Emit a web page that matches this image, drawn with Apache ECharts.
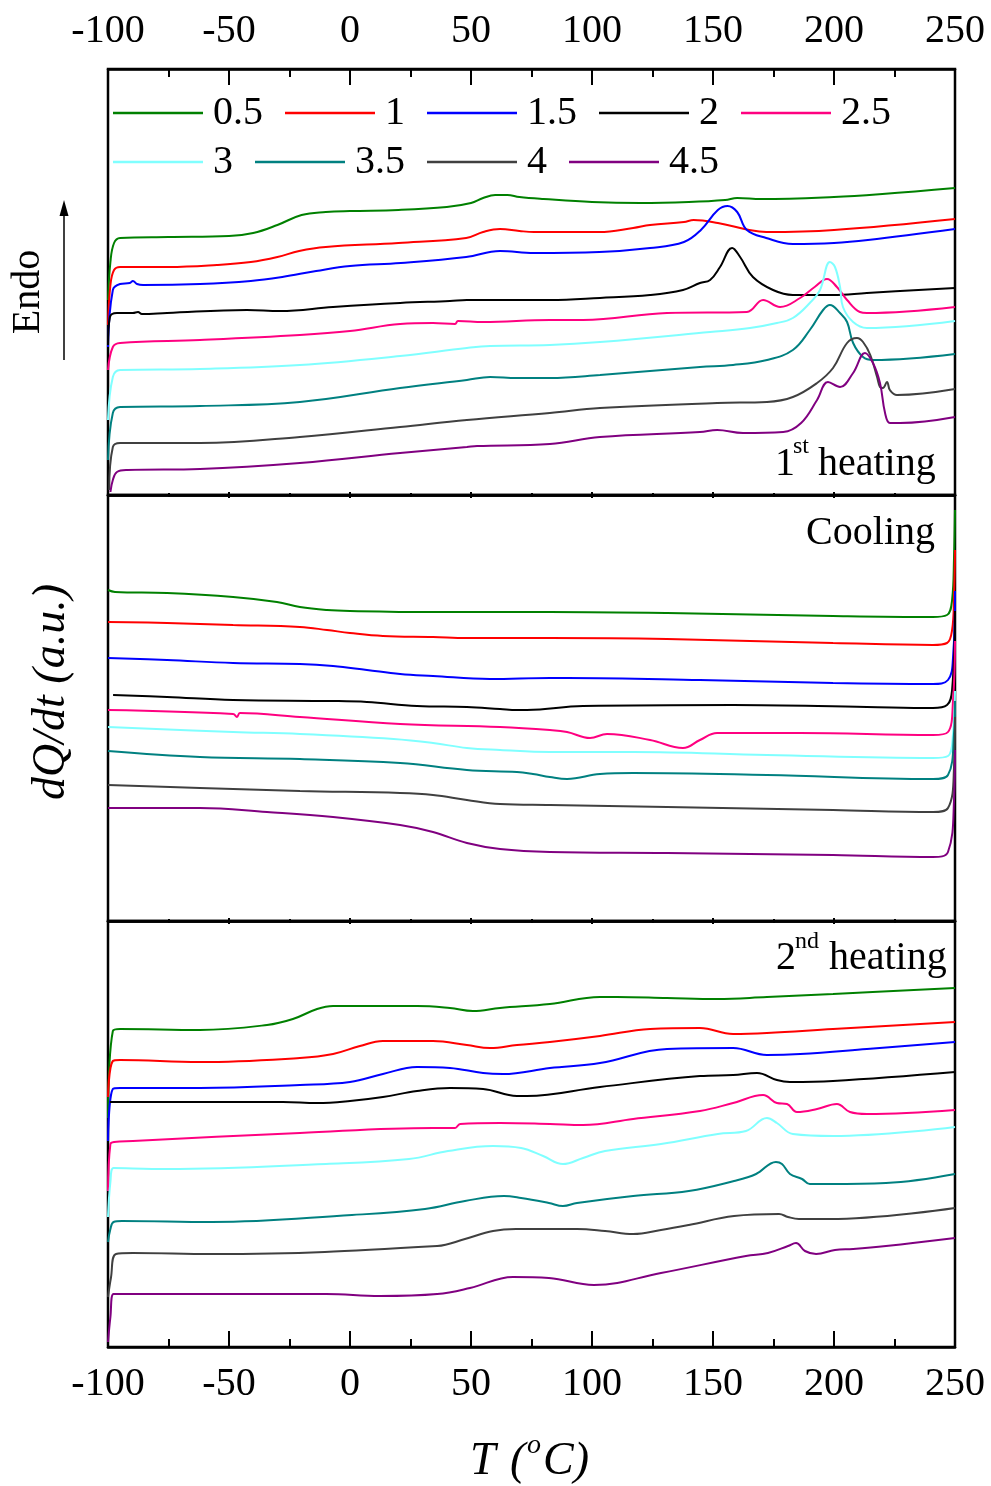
<!DOCTYPE html>
<html>
<head>
<meta charset="utf-8">
<script src="https://cdn.jsdelivr.net/npm/echarts@6/dist/echarts.min.js"></script>
<style>
  html, body { margin: 0; padding: 0; background: #fff; }
  #chart { width: 991px; height: 1486px; }
</style>
</head>
<body>
<div id="chart"></div>
<script>
// Heating / cooling rates (legend entries)
const rates = ['0.5', '1', '1.5', '2', '2.5', '3', '3.5', '4', '4.5'];
const xTicks = [-100, -50, 0, 50, 100, 150, 200, 250];

// ---- 1st heating: [T (°C), dQ/dt (a.u., offset)] ----
const h1_05 = [[-100,19.5],[-99,23.3],[-97.5,25.2],[-95,25.7],[-75,25.8],[-50,25.9],[-40,26.2],[-30,27.0],[-20,28.0],[-10,28.3],[0,28.4],[20,28.5],[40,28.8],[50,29.2],[55,29.7],[60,30.0],[65,30.0],[70,29.8],[80,29.6],[100,29.3],[120,29.2],[140,29.3],[155,29.5],[160,29.7],[170,29.6],[200,29.8],[220,30.1],[250,30.7]];
const h1_1 = [[-100,17.0],[-99,21.0],[-97.5,22.5],[-95,22.8],[-75,22.8],[-55,23.0],[-41,23.3],[-30,23.8],[-21,24.4],[-10,24.8],[20,25.2],[48,25.7],[55,26.3],[62,26.6],[70,26.4],[76,26.3],[103,26.3],[117,26.7],[124,27.0],[138,27.3],[142,27.5],[152,27.2],[165,26.5],[172,26.3],[200,26.5],[250,27.6]];
const h1_15 = [[-100,14.8],[-98,20.5],[-95,21.1],[-91,21.2],[-89.7,21.4],[-88,21.1],[-85.5,21.0],[-62,21.1],[-41,21.4],[-28,21.8],[-14,22.4],[0,22.9],[21,23.2],[48,23.8],[62,24.4],[76,24.2],[103,24.3],[124,24.7],[138,25.3],[145,26.5],[152,28.5],[156,28.9],[160,28.3],[164,26.5],[172,25.7],[183,25.1],[200,25.2],[214,25.5],[250,26.6]];
const h1_2 = [[-100,15.0],[-99.2,17.8],[-96.3,18.2],[-89.7,18.2],[-87.6,18.3],[-86,18.1],[-75.6,18.2],[-42.6,18.5],[-28.9,18.4],[-7,18.8],[20.7,19.2],[41.3,19.4],[48.3,19.5],[82.6,19.5],[103.3,19.7],[124,20.0],[137.6,20.5],[144.6,21.2],[148.8,21.5],[152.9,22.8],[157.9,24.7],[161.2,23.8],[166.5,21.8],[174.8,20.5],[183,20.0],[199.6,20.0],[213.6,20.2],[250,20.7]];
const h1_25 = [[-100,12.5],[-98,14.8],[-95,15.2],[-62,15.5],[-20.7,16.0],[0,16.4],[20.7,17.1],[34.3,17.2],[43.4,17.1],[44.6,17.4],[55,17.3],[82.6,17.5],[96.3,17.5],[131,18.2],[164,18.3],[170.7,19.5],[177.7,18.8],[186,19.7],[192,20.8],[197.1,21.6],[201.2,20.8],[205.4,19.5],[210.7,18.3],[213.6,18.2],[250,18.8]];
const h1_3 = [[-100,7.5],[-98,11.8],[-95,12.5],[-62,12.6],[-20.7,13.0],[20.7,13.9],[48.3,14.7],[57.9,14.9],[82.6,15.0],[103.3,15.3],[148.8,16.3],[165.3,16.7],[176.4,17.2],[183,17.7],[190,19.2],[194.2,20.5],[198.3,23.3],[200.4,22.8],[202.5,20.8],[203.7,18.8],[207.9,17.3],[213.6,16.7],[250,17.4]];
const h1_35 = [[-100,3.5],[-98,8.2],[-95,8.8],[-62,8.9],[-20.7,9.3],[20.7,10.7],[48.3,11.5],[57.9,11.8],[69,11.7],[82.6,11.7],[103.3,12.0],[144.6,12.8],[158.3,13.0],[172.3,13.5],[183,14.5],[190,16.5],[195.5,18.5],[198.3,19.0],[202.5,18.2],[205.4,17.3],[207.9,15.2],[212,13.8],[216.1,13.5],[250,14.1]];
const h1_4 = [[-99.5,0.5],[-98,4.8],[-95,5.2],[-62,5.2],[-20.7,5.8],[20.7,6.8],[48.3,7.5],[82.6,8.2],[103.3,8.7],[151.7,9.2],[172.3,9.3],[183,9.8],[193,11.2],[199.6,12.7],[205.4,15.2],[209.5,15.7],[212,15.3],[215,14.0],[217.8,11.8],[219,10.8],[220.2,10.7],[221.9,11.3],[223.1,10.5],[226,10.0],[250,10.6]];
const h1_45 = [[-99,0.3],[-98,1.5],[-96.3,2.3],[-92,2.5],[-62,2.6],[-20.7,3.2],[20.7,4.2],[48.3,4.8],[52.5,4.9],[82.6,5.1],[103.3,5.8],[144.6,6.3],[151.7,6.5],[162.4,6.2],[179,6.3],[186.4,7.2],[193,9.5],[197.5,11.3],[202.5,10.8],[207.9,12.2],[212.8,14.2],[216.1,13.2],[219,11.2],[221.1,8.2],[223.1,7.2],[227.3,7.2],[250,7.8]];

// ---- Cooling ----
const c_05 = [[-100,33.1],[-97.1,32.9],[-75.6,32.8],[-48.3,32.4],[-30.2,31.9],[-20.7,31.4],[-9.5,31.1],[0,31.0],[34.3,30.9],[82.6,30.9],[131,30.8],[199.6,30.5],[240.9,30.4],[246.7,30.6],[248.8,32.1],[249.6,36.4],[250,41.1]];
const c_1 = [[-100,29.9],[-75.6,29.8],[-48.3,29.6],[-20.7,29.4],[-9.5,29.1],[0,28.8],[13.6,28.5],[34.3,28.4],[48.3,28.3],[82.6,28.3],[131,28.2],[199.6,27.8],[240.9,27.6],[246.7,27.8],[248.8,29.1],[249.6,32.4],[250,37.1]];
const c_15 = [[-100,26.3],[-75.6,26.1],[-48.3,25.8],[-20.7,25.7],[-7,25.5],[7,25.1],[20.7,24.7],[34.3,24.5],[57.9,24.2],[82.6,24.3],[89.7,24.3],[144.6,24.1],[199.6,23.8],[240.9,23.7],[247.1,24.1],[249.2,26.4],[250,33.0]];
const c_2 = [[-97.9,22.6],[-75.6,22.4],[-48.3,22.1],[-7,22.0],[7,21.9],[27.7,21.5],[48.3,21.4],[62,21.2],[69,21.1],[73.1,21.1],[96.3,21.5],[158.3,21.6],[213.6,21.4],[240.9,21.3],[246.7,21.6],[248.8,23.1],[250,31.0]];
const c_25 = [[-100,21.1],[-48.3,20.7],[-46.7,20.4],[-45.5,20.8],[-20.7,20.4],[20.7,19.7],[62,19.4],[82.6,19.1],[89.7,18.9],[99.2,18.3],[106.2,18.7],[124,18.1],[137.6,17.3],[144.6,18.1],[151.7,18.8],[186,18.8],[240.9,18.6],[247.1,18.9],[249.2,22.1],[250,28.0]];
const c_3 = [[-100,19.4],[-48.3,18.9],[-20.7,18.7],[18,18.2],[34.3,17.8],[48.3,17.3],[62,17.1],[82.6,16.9],[117,16.9],[172.3,16.6],[240.9,16.3],[247.1,16.5],[249.2,18.8],[250,23.0]];
const c_35 = [[-100,17.0],[-62,16.4],[-20.7,16.2],[20.7,15.8],[48.3,15.1],[69,14.9],[75.6,14.7],[82.6,14.4],[89.7,14.2],[103.3,14.7],[117,14.8],[172.3,14.6],[240.9,14.2],[247.1,14.6],[249.6,18.8],[250,22.0]];
const c_4 = [[-100,13.6],[-62,13.3],[-20.7,13.0],[20.7,12.8],[34.3,12.6],[48.3,12.1],[62,11.7],[82.6,11.6],[131,11.4],[199.6,11.1],[240.9,10.9],[247.1,11.3],[249.6,15.4],[250,20.4]];
const c_45 = [[-100,11.3],[-62,11.3],[-34.3,10.9],[-7,10.4],[20.7,9.6],[34.3,8.9],[48.3,7.8],[62,7.2],[82.6,6.9],[131,6.8],[199.6,6.6],[240.9,6.4],[247.1,6.9],[249.6,12.1],[250,17.1]];

// ---- 2nd heating ----
const h2_05 = [[-100,22.9],[-98,31.6],[-95,31.8],[-62,31.7],[-34.3,32.2],[-23.6,32.8],[-13.6,33.8],[-7,34.1],[27.7,34.1],[41.3,33.9],[50.8,33.6],[62,33.9],[82.6,34.3],[103.3,35.0],[110.3,35.0],[131,34.9],[151.7,34.8],[172.3,35.0],[199.6,35.3],[250,35.9]];
const h2_1 = [[-100,25.0],[-98,28.6],[-95,28.7],[-62,28.5],[-20.7,28.9],[-7,29.3],[4.1,30.1],[13.6,30.6],[34.3,30.6],[48.3,30.2],[57.9,29.9],[69,30.2],[82.6,30.5],[103.3,31.1],[124,31.8],[144.6,31.9],[158.3,31.3],[172.3,31.4],[199.6,31.8],[250,32.5]];
const h2_15 = [[-100,20.6],[-98,25.8],[-95,25.9],[-62,25.9],[-20.7,26.2],[0,26.5],[13.6,27.3],[27.7,28.0],[41.3,27.9],[55,27.4],[63.2,27.3],[82.6,27.9],[103.3,28.4],[131,29.8],[158.3,29.9],[172.3,29.2],[186,29.3],[213.6,29.8],[250,30.5]];
const h2_2 = [[-99.2,24.5],[-62,24.5],[-27.7,24.5],[-13.6,24.4],[0,24.6],[13.6,25.0],[27.7,25.6],[41.3,25.9],[55,25.8],[69,25.1],[73.1,25.1],[103.3,26.0],[144.6,27.1],[158.3,27.2],[168.2,27.4],[176.4,26.7],[181.8,26.5],[199.6,26.6],[250,27.5]];
const h2_25 = [[-100,15.6],[-99,20.3],[-97.5,20.5],[-89.7,20.6],[-20.7,21.4],[34.3,21.9],[43.4,21.9],[45.5,22.3],[62,22.4],[82.6,22.3],[96.3,22.2],[117,22.8],[144.6,23.6],[158.3,24.4],[170.7,25.2],[176.4,24.4],[180.6,24.3],[184.7,23.5],[193,23.8],[201.2,24.3],[206.6,23.5],[213.6,23.3],[250,23.7]];
const h2_3 = [[-100,13.0],[-99,16.5],[-97.7,17.9],[-75.6,17.8],[-9.9,18.3],[24.4,18.8],[40.5,19.6],[59.1,20.1],[70.7,19.9],[79.8,19.1],[88,18.3],[96.3,18.9],[105.4,19.6],[128.5,20.3],[152,21.3],[163.6,21.6],[172.3,22.9],[176.4,22.4],[183,21.3],[199.6,21.1],[250,22.0]];
const h2_35 = [[-100,10.5],[-99,11.8],[-97.7,12.5],[-94.2,12.6],[-57,12.5],[0.8,13.2],[31,13.8],[47.5,14.6],[63.6,15.1],[70.7,14.9],[82.2,14.4],[88,14.1],[93.8,14.4],[117,15.1],[140,15.6],[158.7,16.6],[167.8,17.3],[176,18.5],[178.5,18.3],[181.8,17.3],[186.8,16.8],[190,16.3],[198.3,16.3],[221.5,16.4],[250,17.3]];
const h2_4 = [[-100,5.0],[-98.8,6.9],[-96.7,9.3],[-89.7,9.4],[-57,9.3],[36,10.1],[47.5,10.8],[59.1,11.6],[68.6,11.8],[93.8,11.8],[105.4,11.6],[117,11.3],[128.5,11.7],[140,12.2],[158.7,13.1],[177.3,13.3],[181,13.0],[185.5,12.8],[198.3,12.8],[250,13.9]];
const h2_45 = [[-100,0.5],[-99,3.0],[-97.7,5.3],[-9.9,5.3],[12.4,5.1],[36,5.3],[49.6,5.9],[67.4,7.0],[82.2,6.9],[100.8,6.2],[128.5,7.4],[163.6,9.1],[172.7,9.4],[181,10.1],[184.3,10.4],[188,9.6],[192.6,9.3],[200.4,9.7],[207.9,9.8],[221.5,10.1],[250,10.9]];

const heating1 = [h1_05, h1_1, h1_15, h1_2, h1_25, h1_3, h1_35, h1_4, h1_45];
const cooling = [c_05, c_1, c_15, c_2, c_25, c_3, c_35, c_4, c_45];
const heating2 = [h2_05, h2_1, h2_15, h2_2, h2_25, h2_3, h2_35, h2_4, h2_45];

const palette = ['#008000', '#ff0000', '#0000ff', '#000000', '#ff0080', '#80ffff', '#008080', '#404040', '#800080'];

const FONT = '"Liberation Serif", "Times New Roman", serif';
const PLOT_LEFT = 108, PLOT_W = 847;
const panelTops = [69, 495, 921];
const panelH = 426;
const Y_MAX = 42.6;

function xAxisFor(gridIndex, position, opts) {
  const major = opts.major, minor = opts.minor;
  return {
    type: 'value', gridIndex, position,
    min: -100, max: 250, interval: 50,
    axisLine: { show: true, onZero: false, lineStyle: { color: '#000', width: 2.5 } },
    axisTick: { show: true, inside: true, length: major, lineStyle: { color: '#000', width: 2 } },
    minorTick: { show: true, splitNumber: 2, length: minor, lineStyle: { color: '#000', width: 2 } },
    splitLine: { show: false },
    axisLabel: opts.labels ? {
      show: true, margin: opts.margin, color: '#000', fontSize: 40, fontFamily: FONT,
      formatter: v => (xTicks.indexOf(v) >= 0 ? String(v) : '')
    } : { show: false }
  };
}

const grids = panelTops.map(t => ({
  left: PLOT_LEFT, top: t, width: PLOT_W, height: panelH,
  show: true, borderColor: '#000', borderWidth: 2.5, backgroundColor: 'transparent',
  outerBoundsMode: 'none'
}));

const xAxes = [
  xAxisFor(0, 'top', { major: 16, minor: 8, labels: true, margin: 18 }),
  xAxisFor(0, 'bottom', { major: 3, minor: 2, labels: false }),
  xAxisFor(1, 'top', { major: 3, minor: 2, labels: false }),
  xAxisFor(1, 'bottom', { major: 3, minor: 2, labels: false }),
  xAxisFor(2, 'top', { major: 3, minor: 2, labels: false }),
  xAxisFor(2, 'bottom', { major: 16, minor: 8, labels: true, margin: 17 })
];

const yAxes = [0, 1, 2].map(g => ({
  type: 'value', gridIndex: g, min: 0, max: Y_MAX, show: false
}));

const series = [];
[heating1, cooling, heating2].forEach((panel, p) => {
  panel.forEach((data, i) => {
    series.push({
      type: 'line', name: rates[i], data,
      xAxisIndex: p * 2, yAxisIndex: p,
      symbol: 'none', smooth: 0.4,
      color: palette[i],
      lineStyle: { color: palette[i], width: 2 },
      clip: true
    });
  });
});

// legend keys drawn as plain line segments
const legendBase = {
  orient: 'horizontal', left: 113, padding: 0,
  icon: 'rect', itemWidth: 90, itemHeight: 2.5, itemGap: 22,
  selectedMode: false,
  textStyle: { fontFamily: FONT, fontSize: 40, color: '#000', padding: [0, 0, 0, 5] }
};

function txt(x, y, text, size, extra) {
  return {
    type: 'text', x, y, silent: true,
    style: Object.assign({ text, fill: '#000', font: size + 'px ' + FONT, align: 'left', verticalAlign: 'middle' }, extra || {})
  };
}

const graphics = [
  // panel captions
  txt(775, 464, '1', 40),
  txt(793, 447, 'st', 24),
  txt(818, 464, 'heating', 40),
  txt(935, 533, 'Cooling', 40, { align: 'right' }),
  txt(776, 958, '2', 40),
  txt(795, 942, 'nd', 24),
  txt(829, 958, 'heating', 40),
  // endotherm direction marker
  { type: 'text', x: 28, y: 292, rotation: Math.PI / 2, silent: true,
    style: { text: 'Endo', fill: '#000', font: '40px ' + FONT, align: 'center', verticalAlign: 'middle' } },
  { type: 'line', silent: true, shape: { x1: 64, y1: 360, x2: 64, y2: 212 }, style: { stroke: '#000', lineWidth: 1.5 } },
  { type: 'polygon', silent: true, shape: { points: [[64, 200], [59.5, 216], [68.5, 216]] }, style: { fill: '#000' } },
  // y-axis title
  { type: 'text', x: 52, y: 692, rotation: Math.PI / 2, silent: true,
    style: { text: 'dQ/dt (a.u.)', fill: '#000', font: 'italic 46px ' + FONT, align: 'center', verticalAlign: 'middle' } },
  // x-axis title T (°C)
  txt(470, 1462, 'T', 46, { font: 'italic 46px ' + FONT }),
  txt(510, 1462, '(', 46, { font: 'italic 46px ' + FONT }),
  txt(527, 1446, 'o', 28, { font: 'italic 28px ' + FONT }),
  txt(543, 1462, 'C)', 46, { font: 'italic 46px ' + FONT })
];

const chart = echarts.init(document.getElementById('chart'), null, { renderer: 'canvas' });
chart.setOption({
  animation: false,
  backgroundColor: '#fff',
  grid: grids,
  xAxis: xAxes,
  yAxis: yAxes,
  legend: [
    Object.assign({}, legendBase, { top: 93, data: rates.slice(0, 5) }),
    Object.assign({}, legendBase, { top: 142, data: rates.slice(5) })
  ],
  series,
  graphic: graphics
});
</script>
</body>
</html>
